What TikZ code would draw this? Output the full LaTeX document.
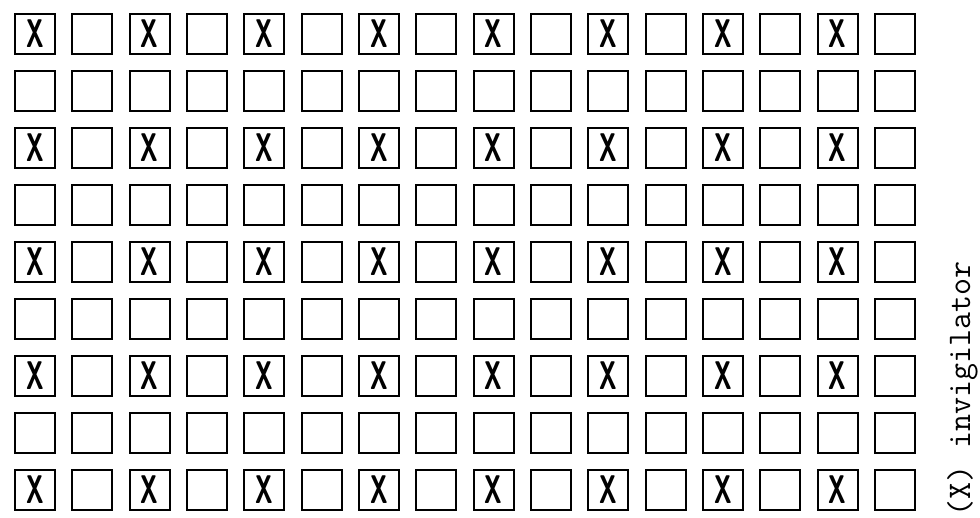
\documentclass[tikz,border=0pt]{standalone}
\usepackage{graphicx}
\usetikzlibrary{positioning}
\tikzset{
    seat/.style={draw, line width=2.2pt, minimum width=40pt,
                 minimum height=40pt, inner sep=0pt, anchor=center},
    xmark/.style={font=\fontsize{40}{40}\selectfont\sffamily\bfseries,
                  inner sep=0pt},
}

\begin{document}
\begin{tikzpicture}[x=1pt, y=1pt]
    \useasboundingbox (0,0) rectangle (980,-518);
    % grid of seats, 9 rows by 16 columns
    \foreach \r in {1,...,9}{
        \foreach \c in {1,...,16}{
            \node[seat] (b\r-\c) at ({35+57.33*(\c-1)},{-34-57*(\r-1)}) {};
        }
    }
    % invigilators on odd rows and odd columns
    \foreach \r in {1,3,5,7,9}{
        \foreach \c in {1,3,...,15}{
            \node[xmark] (x\r-\c) at (b\r-\c) {\scalebox{0.6}[1]{X}};
        }
    }
    \node[rotate=90, anchor=base, font=\fontsize{33}{33}\selectfont\ttfamily]
        (key) at (970,-389) {(X) invigilator};
\end{tikzpicture}
\end{document}
